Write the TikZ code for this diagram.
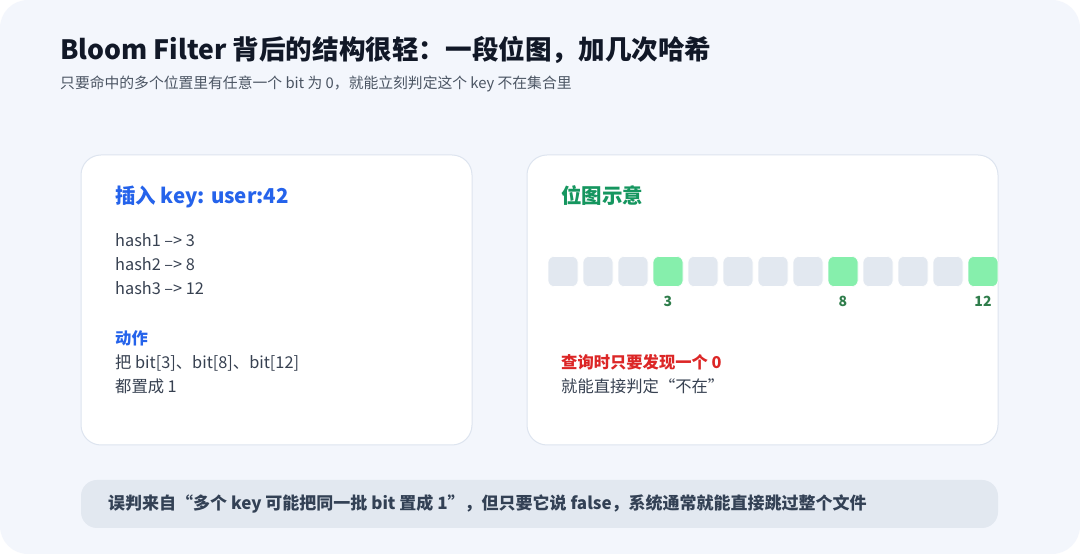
\documentclass[tikz,border=0pt]{standalone}
\usepackage{xcolor}
\usepackage{fontspec}
\setmainfont{Noto Sans CJK SC}
\usepackage{tikz}
\usetikzlibrary{positioning,calc}

\definecolor{pagebg}{HTML}{F3F6FC}
\definecolor{cardline}{HTML}{DDE4EF}
\definecolor{titleink}{HTML}{111827}
\definecolor{subink}{HTML}{4B5563}
\definecolor{bodyink}{HTML}{374151}
\definecolor{blueink}{HTML}{2563EB}
\definecolor{greenink}{HTML}{15965F}
\definecolor{labelgreen}{HTML}{2F7D4B}
\definecolor{redink}{HTML}{DC2626}
\definecolor{bitgray}{HTML}{E2E8F0}
\definecolor{bitgreen}{HTML}{86EFAC}
\definecolor{barink}{HTML}{334155}

\begin{document}
\begin{tikzpicture}[
    x=1pt, y=1pt,
    txt/.style={anchor=base west, inner sep=0pt},
    card/.style={draw=cardline, line width=1pt, fill=white, rounded corners=20pt},
    cardtitle/.style={txt, font=\fontsize{20.5}{24}\selectfont\bfseries},
    body/.style={txt, font=\fontsize{16.3}{20}\selectfont, text=bodyink},
    bitcell/.style={rectangle, fill=bitgray, draw=white, line width=0.6pt, rounded corners=6pt, minimum width=30pt, minimum height=30pt, inner sep=0pt},
    bitlabel/.style={inner sep=0pt, anchor=base, font=\fontsize{14}{16}\selectfont\bfseries, text=labelgreen}
]
\useasboundingbox (0,0) rectangle (1080,554);
\fill[white] (0,0) rectangle (1080,554);
\fill[pagebg, rounded corners=28pt] (0,0) rectangle (1080,554);

% Heading
\node[txt, font=\fontsize{26.6}{30}\selectfont\bfseries, text=titleink] (title) at (60,494)
    {Bloom Filter 背后的结构很轻：一段位图，加几次哈希};
\node[txt, font=\fontsize{14.8}{17}\selectfont, text=subink, below=29pt of title.base west, anchor=base west] (subtitle)
    {只要命中的多个位置里有任意一个 bit 为 0，就能立刻判定这个 key 不在集合里};

% Cards
\draw[card] (81,109) rectangle (472,399);
\draw[card] (527,109) rectangle (998,399);

% Insert card
\node[cardtitle, text=blueink] (insert) at (115,350) {插入 key: user:42};
\node[body, below=43pt of insert.base west, anchor=base west] (hash1) {hash1 –> 3};
\node[body, below=24pt of hash1.base west, anchor=base west] (hash2) {hash2 –> 8};
\node[body, below=24pt of hash2.base west, anchor=base west] (hash3) {hash3 –> 12};
\node[body, font=\fontsize{16.3}{20}\selectfont\bfseries, text=blueink, below=50pt of hash3.base west, anchor=base west] (action) {动作};
\node[body, below=24pt of action.base west, anchor=base west] (set1) {把 bit[3]、bit[8]、bit[12]};
\node[body, below=24pt of set1.base west, anchor=base west] (set2) {都置成 1};

% Bitmap card
\node[cardtitle, text=greenink] (bitmap) at (561,350) {位图示意};
\foreach \i in {0,...,12}
    \node[bitcell] (b\i) at (563+35*\i,282.5) {};
\foreach \i in {3,8,12} {
    \node[bitcell, fill=bitgreen] at (b\i) {};
    \node[bitlabel] at ($(b\i.center)+(0,-35.5)$) {\i};
}
\node[body, font=\fontsize{16.3}{20}\selectfont\bfseries, text=redink] (query) at (561,185) {查询时只要发现一个 0};
\node[body, below=24pt of query.base west, anchor=base west] (absent) {就能直接判定“不在”};

% Bottom note
\fill[bitgray, rounded corners=16pt] (81,26) rectangle (998,74);
\node[txt, font=\fontsize{17}{20}\selectfont\bfseries, text=barink] (note) at (108,44)
    {误判来自“多个 key 可能把同一批 bit 置成 1”，但只要它说 false，系统通常就能直接跳过整个文件};

\end{tikzpicture}
\end{document}
